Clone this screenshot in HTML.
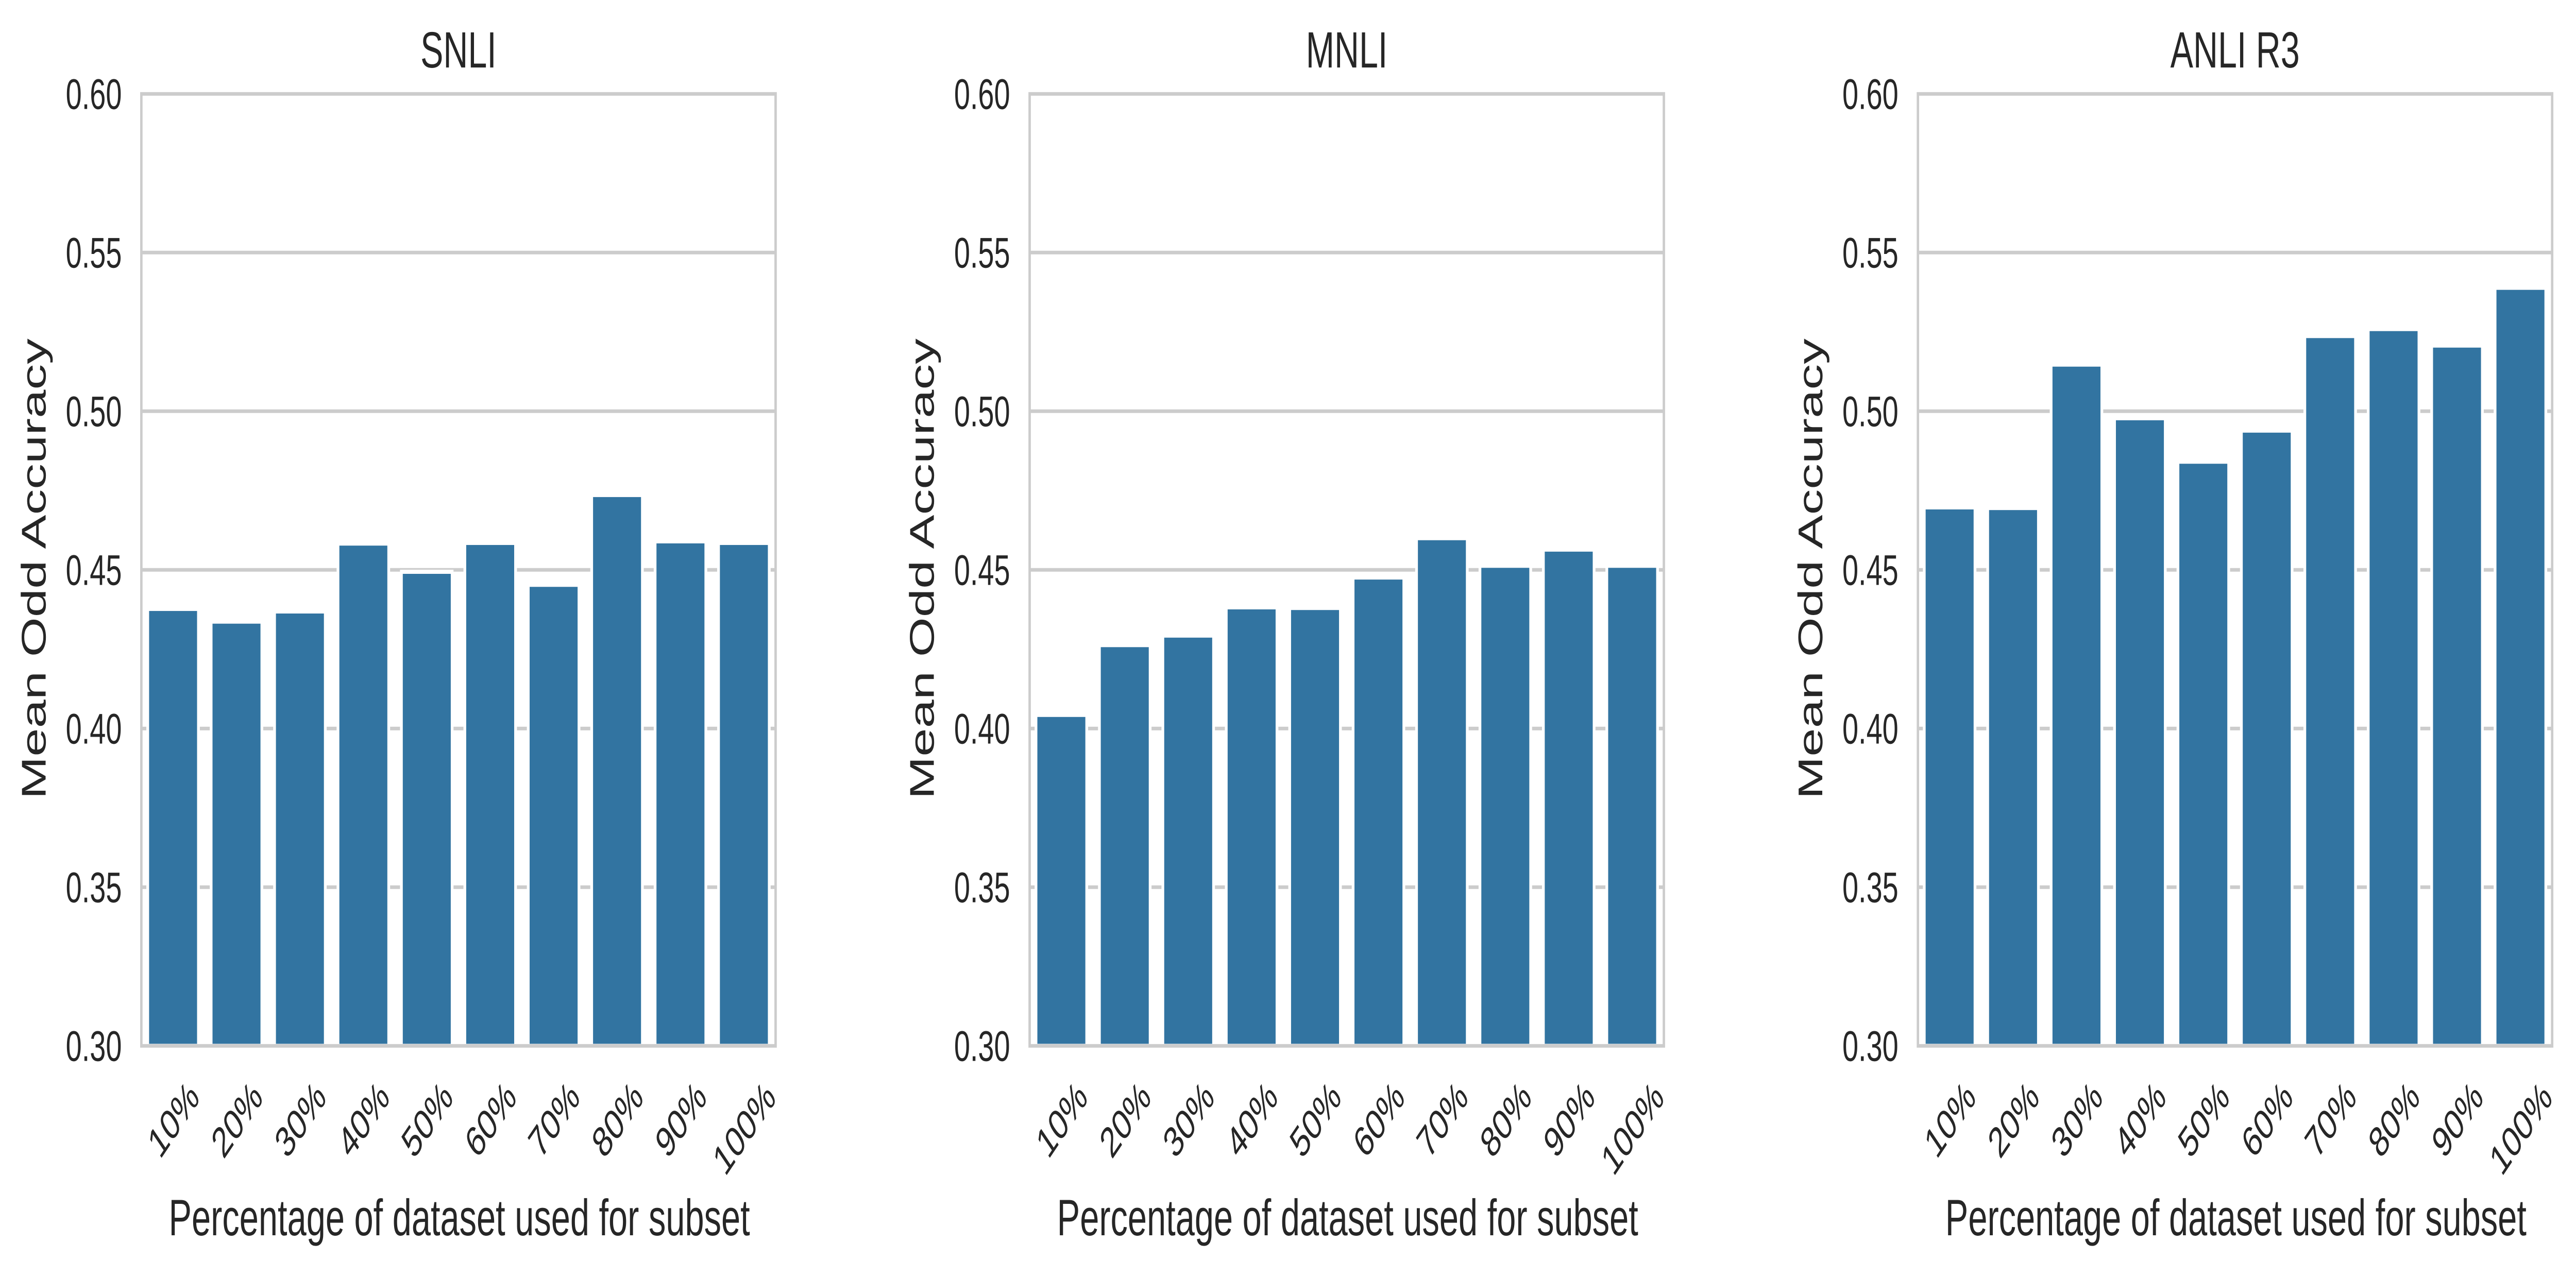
<!DOCTYPE html>
<html lang="en">
<head>
<meta charset="utf-8">
<title>Mean Odd Accuracy by dataset subset</title>
<style>
  html, body { margin: 0; padding: 0; background: #ffffff; width: 100%; height: 100%; overflow: hidden; }
  svg { display: block; width: 100vw; height: 100vh; }
  text { font-family: "Liberation Sans", Arial, sans-serif; fill: #262626; text-rendering: geometricPrecision; }
</style>
</head>
<body>
<svg id="chart" xmlns="http://www.w3.org/2000/svg" viewBox="0 0 7453 2479" preserveAspectRatio="none"></svg>
<script>
const categories = ['10%', '20%', '30%', '40%', '50%', '60%', '70%', '80%', '90%', '100%'];
const yTicks = [0.30, 0.35, 0.40, 0.45, 0.50, 0.55, 0.60];
const snliValues = [0.4377, 0.4337, 0.4369, 0.4583, 0.4494, 0.4585, 0.4453, 0.4736, 0.4590, 0.4585];
const mnliValues = [0.4043, 0.4263, 0.4293, 0.4382, 0.4380, 0.4476, 0.4600, 0.4513, 0.4564, 0.4513];
const anliValues = [0.4697, 0.4695, 0.5147, 0.4978, 0.4841, 0.4939, 0.5237, 0.5259, 0.5207, 0.5389];
const panelTitles = ['SNLI', 'MNLI', 'ANLI R3'];
const panelValues = [snliValues, mnliValues, anliValues];
const yAxisTitle = 'Mean Odd Accuracy';
const xAxisTitle = 'Percentage of dataset used for subset';

const NS = 'http://www.w3.org/2000/svg';
const svg = document.getElementById('chart');
const yMin = yTicks[0];
const yMax = yTicks[yTicks.length - 1];
const plotTop = 182.3;
const plotBottom = 2030.3;
const plotWidth = 1835;
const panelLefts = [409, 2979, 5549];

function yScale(v) {
  return plotBottom - (v - yMin) / (yMax - yMin) * (plotBottom - plotTop);
}
function xBand(i, left) {
  return left + (i + 0.5) / categories.length * plotWidth;
}
function make(tag, attrs, parent) {
  const el = document.createElementNS(NS, tag);
  for (const k in attrs) el.setAttribute(k, attrs[k]);
  parent.appendChild(el);
  return el;
}

panelTitles.forEach(function (title, p) {
  const left = panelLefts[p];
  const right = left + plotWidth;
  const center = left + plotWidth / 2;
  const values = panelValues[p];
  const slug = title.toLowerCase().replace(/\s+/g, '-');

  const group = make('g', {}, svg);
  
  

  yTicks.forEach(function (t) {
    const y = yScale(t);
    const label = t.toFixed(2);
    if (t > yMin && t < yMax) {
      const grid = make('line', { x1: left, x2: right, y1: y, y2: y, stroke: '#cccccc', 'stroke-width': 7 }, group);
      
      
    }
    const tick = make('text', { x: left - 56.5, y: y + 29, 'text-anchor': 'end', 'font-size': 83.33 }, group);
    
    
    tick.textContent = label;
  });

  const barWidth = 0.8 * plotWidth / categories.length;
  values.forEach(function (v, i) {
    const cx = xBand(i, left);
    const yTop = yScale(v);
    const bar = make('rect', {
      x: cx - barWidth / 2,
      y: yTop,
      width: barWidth,
      height: plotBottom - yTop,
      fill: '#3274a1',
      stroke: '#ffffff',
      'stroke-width': 8
    }, group);
    
    
  });

  const frame = make('rect', { x: left, y: plotTop, width: plotWidth, height: plotBottom - plotTop, fill: 'none', stroke: '#cccccc', 'stroke-width': 7 }, group);
  
  

  categories.forEach(function (c, i) {
    const cx = xBand(i, left);
    const cy = c.length > 3 ? 2189 : 2172;
    const lab = make('text', { x: 0, y: 30, 'text-anchor': 'middle', 'font-size': 83.33, transform: 'translate(' + cx + ' ' + cy + ') rotate(-45)' }, group);
    
    
    lab.textContent = c;
  });

  const titleEl = make('text', { x: center, y: 131, 'text-anchor': 'middle', 'font-size': 99 }, group);
  
  
  titleEl.textContent = title;

  const xTitle = make('text', { x: center + 2.5, y: 2398, 'text-anchor': 'middle', 'font-size': 99.5 }, group);
  
  
  xTitle.textContent = xAxisTitle;

  const yTitle = make('text', { x: 0, y: 0, 'text-anchor': 'middle', 'font-size': 99.3, transform: 'translate(' + (left - 277) + ' ' + (((plotTop + plotBottom) / 2) - 2) + ') rotate(-90)' }, group);
  
  
  yTitle.textContent = yAxisTitle;
});
</script>
</body>
</html>
